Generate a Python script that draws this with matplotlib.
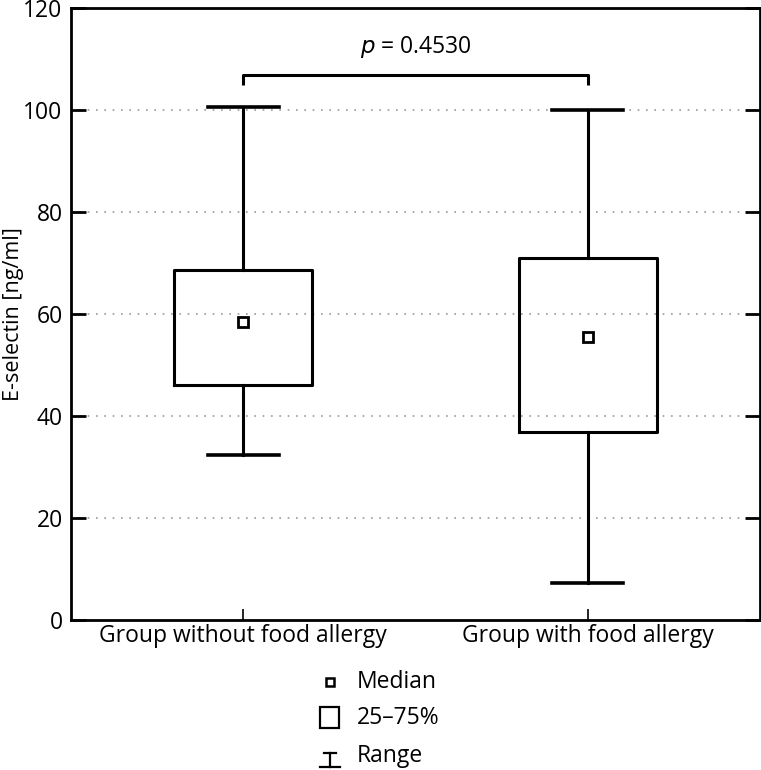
import matplotlib
matplotlib.use("Agg")
import matplotlib.pyplot as plt
from matplotlib.lines import Line2D
from matplotlib.patches import Rectangle

plt.rcParams['font.family'] = ['Open Sans', 'DejaVu Sans']

# data
groups = ['Group without food allergy', 'Group with food allergy']
mins = [32.4, 7.2]
q1 = [46.0, 36.9]
medians = [58.5, 55.4]
q3 = [68.6, 70.9]
maxs = [100.6, 100.0]
p_text = '0.4530'

FS = 16.5

fig = plt.figure(figsize=(7.61, 7.70), dpi=100)
ax = fig.add_axes([71 / 761, 1 - 620 / 770, 689 / 761, 612 / 770])

stats = []
for i in range(len(groups)):
    stats.append(dict(whislo=mins[i], q1=q1[i], med=medians[i], q3=q3[i], whishi=maxs[i]))

pos = list(range(len(groups)))
ax.bxp(stats, positions=pos, widths=0.40, capwidths=0.206, showfliers=False,
       boxprops=dict(color='black', linewidth=2.2),
       whiskerprops=dict(color='black', linewidth=2.2),
       capprops=dict(color='black', linewidth=2.6),
       medianprops=dict(linewidth=0))
ax.plot(pos, medians, 's', ms=7, mfc='white', mec='black', mew=2, ls='none', zorder=5)

# significance bracket
ax.plot([0, 0, 1, 1], [105, 106.9, 106.9, 105], color='black', lw=2.2, solid_capstyle='butt')
ax.text(0.5, 109.8, r'$p$ = ' + p_text, ha='center', va='bottom', fontsize=FS)

ax.set_xlim(-0.5, 1.5)
ax.set_ylim(0, 120)
ax.set_yticks(range(0, 121, 20))
ax.set_xticks(pos)
ax.set_xticklabels(groups, fontsize=FS)
ax.tick_params(axis='y', direction='in', length=11, width=2, labelsize=FS, right=True, pad=6)
ax.tick_params(axis='x', direction='in', length=8, width=1.2, pad=3)
for v in range(20, 101, 20):
    ax.axhline(v, color='#999999', lw=1.2, ls=(0, (1, 4)), zorder=0)
for s in ax.spines.values():
    s.set_linewidth(2)
ax.set_ylabel('E-selectin [ng/ml]', fontsize=15.5, va='center')
ax.yaxis.set_label_coords(-57 / 689, 0.5)

# legend drawn below the axes
def fx(x):
    return x / 761

def fy(y):
    return 1 - y / 770

fig.add_artist(Line2D([fx(330)], [fy(682)], marker='s', ms=6, mfc='white', mec='black', mew=1.8,
                      transform=fig.transFigure))
fig.add_artist(Rectangle((fx(320), fy(728)), fx(19), 21 / 770, fill=False, ec='black', lw=1.6,
                         transform=fig.transFigure))
fig.add_artist(Line2D([fx(324), fx(336)], [fy(753), fy(753)], color='black', lw=1.6, transform=fig.transFigure))
fig.add_artist(Line2D([fx(330), fx(330)], [fy(753), fy(767)], color='black', lw=1.6, transform=fig.transFigure))
fig.add_artist(Line2D([fx(320), fx(340)], [fy(767), fy(767)], color='black', lw=1.6, transform=fig.transFigure))
for label, y in zip(['Median', '25–75%', 'Range'], [682, 718, 756]):
    fig.text(fx(357), fy(y), label, fontsize=FS, va='center', ha='left')

fig.savefig('out.png', dpi=100)
